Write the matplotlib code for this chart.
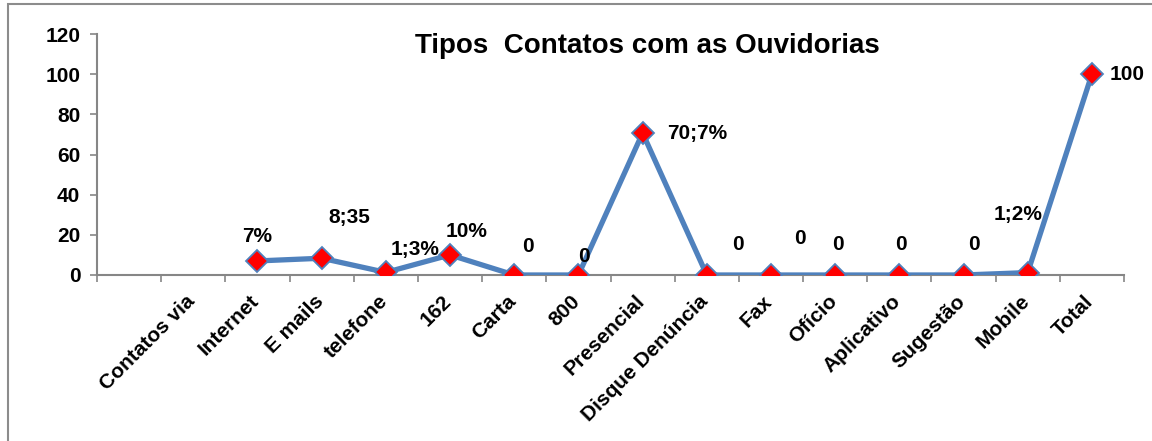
import matplotlib.pyplot as plt
from matplotlib.patches import Rectangle
from matplotlib.transforms import ScaledTranslation
import numpy as np

plt.rcParams['font.family'] = ['Liberation Sans', 'DejaVu Sans']
plt.rcParams['font.weight'] = 'bold'

categorias = ['', 'Contatos via', 'Internet', 'E mails', 'telefone', '162', 'Carta', '800',
              'Presencial', 'Disque Denúncia', 'Fax', 'Ofício', 'Aplicativo', 'Sugestão',
              'Mobile', 'Total']
valores = [np.nan, np.nan, 7, 8.35, 1.3, 10, 0, 0, 70.7, 0, 0, 0, 0, 0, 1.2, 100]
rotulos = [None, None, '7%', '8;35', '1;3%', '10%', '0', '0', '70;7%', '0', '0', '0', '0', '0',
           '1;2%', '100']
# deslocamento dos rotulos em pixels (dx, dy)
desloc = [None, None, (0, 24), (28, 41), (29, 23), (17, 23), (14, 28), (6, 18), (55, 0),
          (31, 30), (29, 36), (3, 30), (2, 30), (10, 30), (-10, 58), (35, 0)]

azul = '#4F81BD'
cinza = '#868686'

fig = plt.figure(figsize=(11.52, 4.41), dpi=100)
fig.patches.append(Rectangle((8 / 1152, -0.1), 1.2, 1.1 - 4 / 441, transform=fig.transFigure,
                             fill=False, edgecolor='#8c8c8c', linewidth=1.5))
ax = fig.add_axes([97 / 1152, 1 - 275 / 441, (1124 - 97) / 1152, (275 - 34) / 441])

x = np.arange(len(categorias))
ax.plot(x, valores, color=azul, linewidth=3.8, marker='D', markersize=11,
        markerfacecolor='red', markeredgecolor=azul, markeredgewidth=1.3, zorder=3)

for i, r in enumerate(rotulos):
    if r is None:
        continue
    ax.annotate(r, (x[i], valores[i]), xytext=desloc[i], textcoords='offset pixels',
                ha='center', va='center', fontsize=15, fontweight='bold', zorder=4)

ax.set_xlim(-0.5, len(categorias) - 0.5)
ax.set_ylim(0, 120)
ax.set_yticks(range(0, 121, 20))
ax.set_xticks(np.arange(-0.5, len(categorias), 1))
ax.set_xticklabels([])
ax.set_xticks(x, minor=True)
ax.set_xticklabels(categorias, minor=True, rotation=45, ha='right', va='top',
                   rotation_mode='anchor', fontsize=15, fontweight='bold')
ax.tick_params(axis='x', which='minor', length=0, pad=12)
ax.tick_params(axis='both', which='major', color=cinza, length=5, width=1.2,
               labelsize=15, direction='out')
ax.tick_params(axis='y', pad=7)
for lab in ax.get_yticklabels():
    lab.set_fontweight('bold')
desl_x = ScaledTranslation(-8 / 100, 0, fig.dpi_scale_trans)
for lab in ax.get_xticklabels(minor=True):
    lab.set_transform(lab.get_transform() + desl_x)

for s in ['top', 'right']:
    ax.spines[s].set_visible(False)
for s in ['left', 'bottom']:
    ax.spines[s].set_color(cinza)
    ax.spines[s].set_linewidth(1.5)

fig.text(647 / 1152, 1 - 46 / 441, 'Tipos  Contatos com as Ouvidorias', ha='center', va='center',
         fontsize=20, fontweight='bold')

fig.savefig('out.png', dpi=100)
